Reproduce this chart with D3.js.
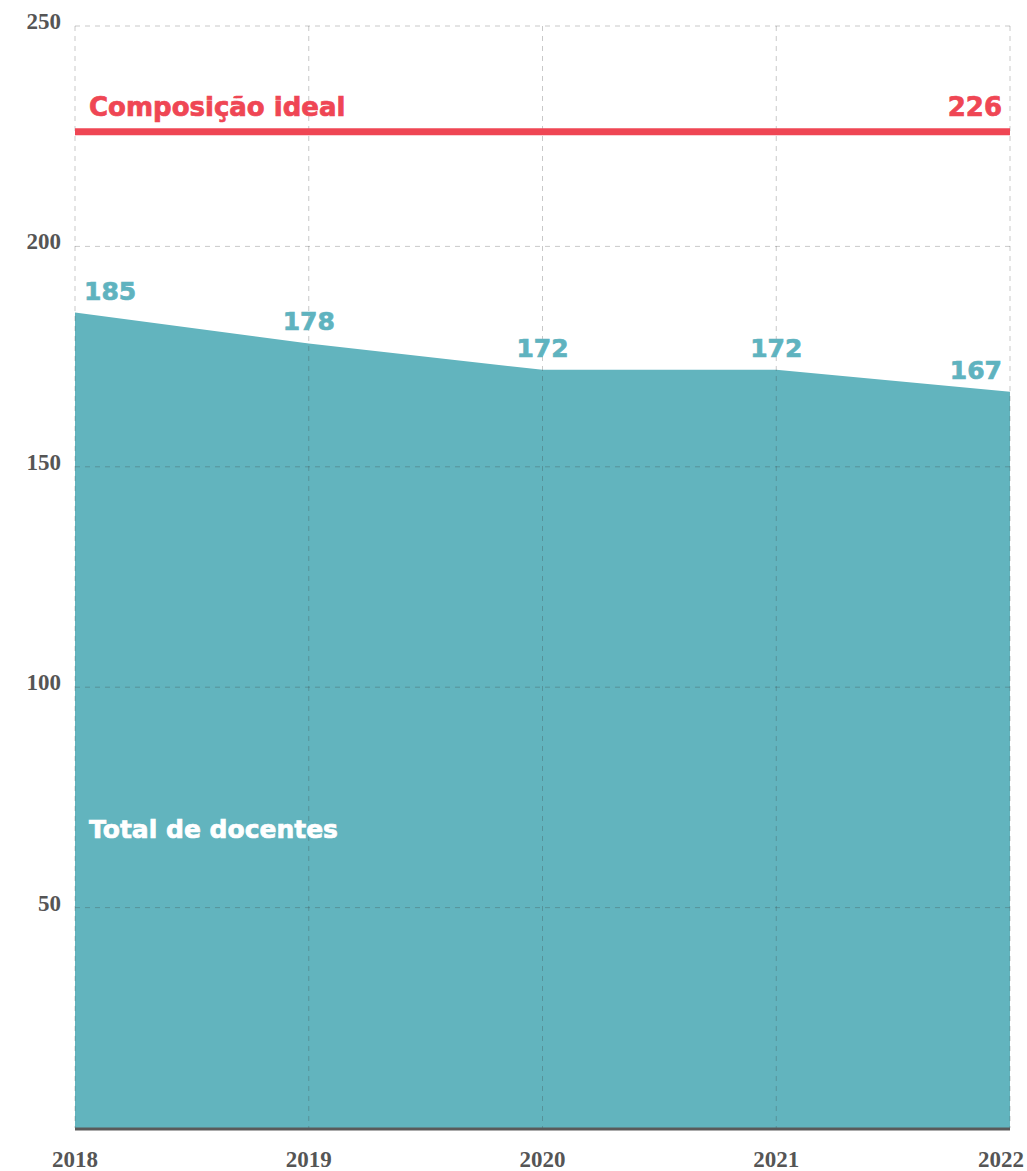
<!doctype html>
<html lang="pt">
<head>
  <meta charset="utf-8">
  <title>Total de docentes</title>
  <style type="text/css">
    body{ margin:0; background:#fff; }
    .tick-label{
      font-family: "Liberation Serif", "DejaVu Serif", serif;
      font-weight: bold;
      font-size: 23px;
      fill: #555;
    }
    .lbl{
      font-family: "DejaVu Sans", "Open Sans", sans-serif;
      font-weight: bold;
      stroke-width: 0.7px;
    }
  </style>
</head>
<body>
  <div id="vis"></div>
  <script src="https://cdn.jsdelivr.net/npm/d3@7"></script>
  <script type="text/javascript">

    var years = [2018, 2019, 2020, 2021, 2022],
      docentes = [185, 178, 172, 172, 167],
      ideal = 226,
      yTicks = [50, 100, 150, 200, 250],
      idealLabel = 'Composição ideal',
      areaLabel = 'Total de docentes';

    var width = 1027, height = 1171,
      padLeft = 75, padRight = 1010, padTop = 26, padBottom = 1128;

    var svg = d3.select('#vis').append('svg')
      .attr('width', width).attr('height', height);

    var x = d3.scalePoint().domain(years).range([padLeft, padRight]);
    var y = d3.scaleLinear().domain([0, 250]).range([padBottom, padTop]);

    // area
    var area = d3.area()
      .x(function(d, i){ return x(years[i]); })
      .y0(y(0))
      .y1(function(d){ return y(d); });

    svg.append('path')
      .attr('d', area(docentes))
      .style('fill', '#62b4be');

    // grid, drawn on top so it shows through the area
    var grid = svg.append('g');
    grid.selectAll('line.h').data(yTicks).enter().append('line')
      .attr('class', 'h')
      .attr('x1', padLeft).attr('x2', padRight)
      .attr('y1', function(d){ return y(d); })
      .attr('y2', function(d){ return y(d); });
    grid.selectAll('line.v').data(years).enter().append('line')
      .attr('class', 'v')
      .attr('x1', function(d){ return x(d); })
      .attr('x2', function(d){ return x(d); })
      .attr('y1', padTop).attr('y2', padBottom);
    grid.selectAll('line')
      .style('stroke', 'rgba(60,60,60,0.28)')
      .style('stroke-width', 1)
      .style('stroke-dasharray', '5,5');

    // bottom axis line
    svg.append('line')
      .attr('x1', padLeft).attr('x2', padRight)
      .attr('y1', y(0) + 1).attr('y2', y(0) + 1)
      .style('stroke', '#5a5a5a')
      .style('stroke-width', 3);

    // y tick labels
    svg.selectAll('text.yt').data(yTicks).enter().append('text')
      .attr('class', 'tick-label yt')
      .attr('x', 61)
      .attr('y', function(d){ return y(d) + 3; })
      .attr('text-anchor', 'end')
      .text(function(d){ return d; });

    // x tick labels
    svg.selectAll('text.xt').data(years).enter().append('text')
      .attr('class', 'tick-label xt')
      .attr('x', function(d, i){ return i === years.length - 1 ? width - 3 : x(d); })
      .attr('y', 1167)
      .attr('text-anchor', function(d, i){ return i === years.length - 1 ? 'end' : 'middle'; })
      .text(function(d){ return d; });

    // ideal line
    svg.append('line')
      .attr('x1', padLeft).attr('x2', padRight)
      .attr('y1', y(ideal)).attr('y2', y(ideal))
      .style('stroke', '#ef4654')
      .style('stroke-width', 7);

    svg.append('text')
      .attr('class', 'lbl')
      .attr('x', padLeft + 14)
      .attr('y', y(ideal) - 16)
      .style('font-size', '26px')
      .style('fill', '#ef4654')
      .style('stroke', '#ef4654')
      .text(idealLabel);

    svg.append('text')
      .attr('class', 'lbl')
      .attr('x', padRight - 8)
      .attr('y', y(ideal) - 16)
      .attr('text-anchor', 'end')
      .style('font-size', '26px')
      .style('fill', '#ef4654')
      .style('stroke', '#ef4654')
      .text(ideal);

    // value labels
    svg.selectAll('text.val').data(docentes).enter().append('text')
      .attr('class', 'lbl val')
      .attr('x', function(d, i){
        if(i === 0) return x(years[i]) + 9;
        if(i === docentes.length - 1) return x(years[i]) - 8;
        return x(years[i]);
      })
      .attr('y', function(d){ return y(d) - 13; })
      .attr('text-anchor', function(d, i){
        if(i === 0) return 'start';
        if(i === docentes.length - 1) return 'end';
        return 'middle';
      })
      .style('font-size', '25px')
      .style('fill', '#5fb3bf')
      .style('stroke', '#5fb3bf')
      .text(function(d){ return d; });

    svg.append('text')
      .attr('class', 'lbl')
      .attr('x', padLeft + 14)
      .attr('y', 838)
      .style('font-size', '25px')
      .style('fill', '#fff')
      .style('stroke', '#fff')
      .text(areaLabel);

  </script>
</body>
</html>
